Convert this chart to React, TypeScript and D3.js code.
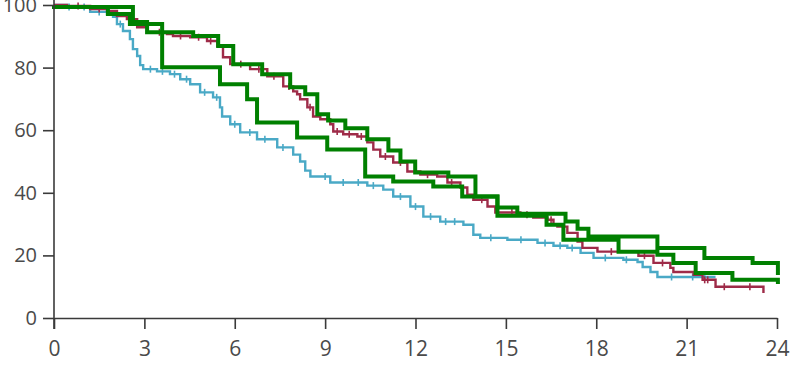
import React, { useEffect, useRef } from 'react';
import * as d3 from 'd3';

const xTicks = [0, 3, 6, 9, 12, 15, 18, 21, 24];
const yTicks = [0, 20, 40, 60, 80, 100];

// [month, survival %]
const blueCurve: [number, number][] = [
    [0, 100], [0.43, 99.4], [1.2, 97.8], [1.76, 97.1], [1.96, 96.2], [2.09, 93.9],
    [2.29, 91.7], [2.52, 89.1], [2.62, 85.9], [2.76, 83.7], [2.86, 80.8], [2.96, 79.5],
    [3.42, 78.8], [3.85, 77.9], [4.19, 76.3], [4.52, 74.7], [4.85, 72.1], [5.28, 70.5],
    [5.51, 67.3], [5.58, 64.4], [5.85, 61.9], [6.18, 59.3], [6.74, 57.1], [7.41, 54.5],
    [7.94, 52.2], [8.17, 50.0], [8.34, 47.1], [8.51, 45.2], [9.17, 43.3], [10.4, 42.3],
    [10.93, 41.0], [11.26, 38.8], [11.83, 35.6], [12.26, 32.4], [12.82, 30.8], [13.59, 29.8],
    [13.92, 26.6], [14.15, 25.6], [15.05, 25.0], [16.05, 24.0], [16.58, 23.1], [17.04, 22.4],
    [17.48, 20.8], [17.91, 19.2], [18.9, 18.6], [19.37, 17.9], [19.54, 16.3], [19.8, 14.7],
    [20.03, 13.1], [21.96, 13.1]
];

const redCurve: [number, number][] = [
    [0, 100], [0.43, 99.7], [1.2, 98.7], [1.76, 98.1], [2.09, 96.5], [2.42, 95.5],
    [2.76, 92.9], [3.09, 91.3], [3.75, 90.7], [3.95, 90.1], [4.52, 89.7], [5.08, 88.5],
    [5.42, 86.9], [5.61, 83.3], [5.85, 81.1], [6.51, 79.5], [7.08, 77.2], [7.61, 74.0],
    [7.94, 72.4], [8.07, 71.5], [8.17, 69.9], [8.41, 67.3], [8.6, 64.4], [8.84, 63.5],
    [9.17, 61.9], [9.27, 59.6], [9.6, 58.7], [10.07, 58.0], [10.4, 56.1], [10.6, 53.8],
    [10.83, 51.6], [11.26, 49.7], [11.73, 46.8], [12.16, 45.8], [12.72, 45.2], [13.06, 43.3],
    [13.49, 41.7], [13.72, 39.4], [13.92, 37.8], [14.39, 35.6], [14.65, 33.7], [15.48, 33.0],
    [15.91, 32.1], [16.38, 31.4], [16.58, 29.8], [16.71, 29.2], [17.04, 27.2], [17.38, 24.4],
    [17.54, 22.4], [18.04, 21.2], [19.4, 19.9], [19.9, 17.6], [20.46, 16.0], [20.56, 14.7],
    [21.23, 13.8], [21.53, 12.2], [21.96, 10.0], [23.55, 8.0]
];

const blueCensored = [0.5, 1.0, 1.5, 2.2, 3.2, 3.6, 4.0, 4.4, 5.0, 5.4, 6.0, 6.5, 7.0, 7.6,
    9.0, 9.6, 10.1, 10.6, 11.5, 12.0, 12.5, 13.0, 13.3, 14.5, 15.5, 16.3, 16.8, 17.2,
    18.3, 19.0, 20.5, 21.2, 21.6];
const redCensored = [0.8, 1.5, 3.5, 4.2, 4.8, 5.2, 6.2, 6.8, 7.3, 7.8, 8.5, 9.4, 9.8, 10.2,
    11.0, 11.5, 12.4, 13.2, 14.2, 15.2, 15.7, 16.5, 18.5, 19.6, 20.2, 21.6, 21.7, 22.25, 23.1];

const green1: [number, number][] = [
    [0, 99.4], [2.62, 94.6], [3.09, 91.3], [4.62, 90.1], [5.45, 86.9], [5.95, 81.1],
    [6.91, 77.9], [7.84, 73.7], [8.34, 71.5], [8.74, 65.1], [9.1, 63.1], [9.67, 60.6],
    [10.4, 57.1], [11.1, 53.5], [11.5, 50.0], [11.99, 46.5], [13.09, 45.2], [13.99, 38.8],
    [14.72, 35.3], [15.38, 33.3], [16.98, 30.8], [17.38, 28.5], [17.74, 26.0], [20.03, 22.4],
    [21.59, 19.2], [23.19, 17.6], [24.03, 14.4]
];

const green2: [number, number][] = [
    [0, 99.4], [1.79, 97.1], [2.52, 93.9], [3.59, 80.1], [5.51, 74.7], [6.41, 69.9],
    [6.74, 62.5], [8.07, 57.7], [9.07, 53.8], [10.33, 45.2], [11.26, 43.6], [12.59, 42.0],
    [13.55, 38.8], [14.72, 32.7], [16.35, 29.8], [16.91, 25.0], [18.74, 21.2], [20.03, 20.2],
    [20.56, 17.6], [21.3, 14.4], [22.52, 12.2], [24.03, 11.5]
];

const width = 798;
const height = 367;

export default function App() {
    const svgRef = useRef<SVGSVGElement>(null);

    useEffect(() => {
        const svg = d3.select(svgRef.current);
        svg.selectAll('*').remove();

        const x = d3.scaleLinear().domain([0, 24]).range([54, 777]);
        const y = d3.scaleLinear().domain([0, 100]).range([318, 5]);

        const line = d3.line<[number, number]>()
            .x(d => x(d[0]))
            .y(d => y(d[1]))
            .curve(d3.curveStepAfter);

        // value of a step curve at time t
        const at = (curve: [number, number][], t: number) => {
            let v = curve[0][1];
            for (const p of curve) if (p[0] <= t) v = p[1];
            return v;
        };

        const km = [
            { curve: blueCurve, censored: blueCensored, color: '#4aa9c6' },
            { curve: redCurve, censored: redCensored, color: '#9e2b48' }
        ];

        km.forEach(s => {
            svg.append('path')
                .attr('d', line(s.curve))
                .attr('fill', 'none')
                .attr('stroke', s.color)
                .attr('stroke-width', 2.4);
            svg.append('g')
                .selectAll('line')
                .data(s.censored)
                .join('line')
                .attr('x1', d => x(d))
                .attr('x2', d => x(d))
                .attr('y1', d => y(at(s.curve, d)) - 3.5)
                .attr('y2', d => y(at(s.curve, d)) + 3.5)
                .attr('stroke', s.color)
                .attr('stroke-width', 1.6);
        });

        [green1, green2].forEach(g => {
            svg.append('path')
                .attr('d', line(g))
                .attr('fill', 'none')
                .attr('stroke', '#008000')
                .attr('stroke-width', 4)
                .attr('stroke-linejoin', 'miter')
                .attr('stroke-linecap', 'square');
        });

        const xAxis = svg.append('g')
            .attr('transform', `translate(0, ${y(0)})`)
            .call(d3.axisBottom(x).tickValues(xTicks).tickSize(11).tickPadding(12).tickSizeOuter(0));
        xAxis.selectAll('text').attr('font-size', 21);

        const yAxis = svg.append('g')
            .attr('transform', `translate(${x(0)}, 0)`)
            .call(d3.axisLeft(y).tickValues(yTicks).tickSize(11).tickPadding(6).tickSizeOuter(0));
        yAxis.selectAll('text').attr('font-size', 20);
        yAxis.select('.domain').attr('d', `M0,${y(0) + 11}V0`);

        svg.selectAll('.domain, .tick line').attr('stroke', '#3a3a3a').attr('stroke-width', 1.6);
        svg.selectAll('.tick text').attr('fill', '#4a4a4a').attr('font-family', '"Open Sans", sans-serif');
    }, []);

    return (
        <svg ref={svgRef} width={width} height={height}
            style={{ position: 'absolute', left: 0, top: 0 }} />
    );
}
